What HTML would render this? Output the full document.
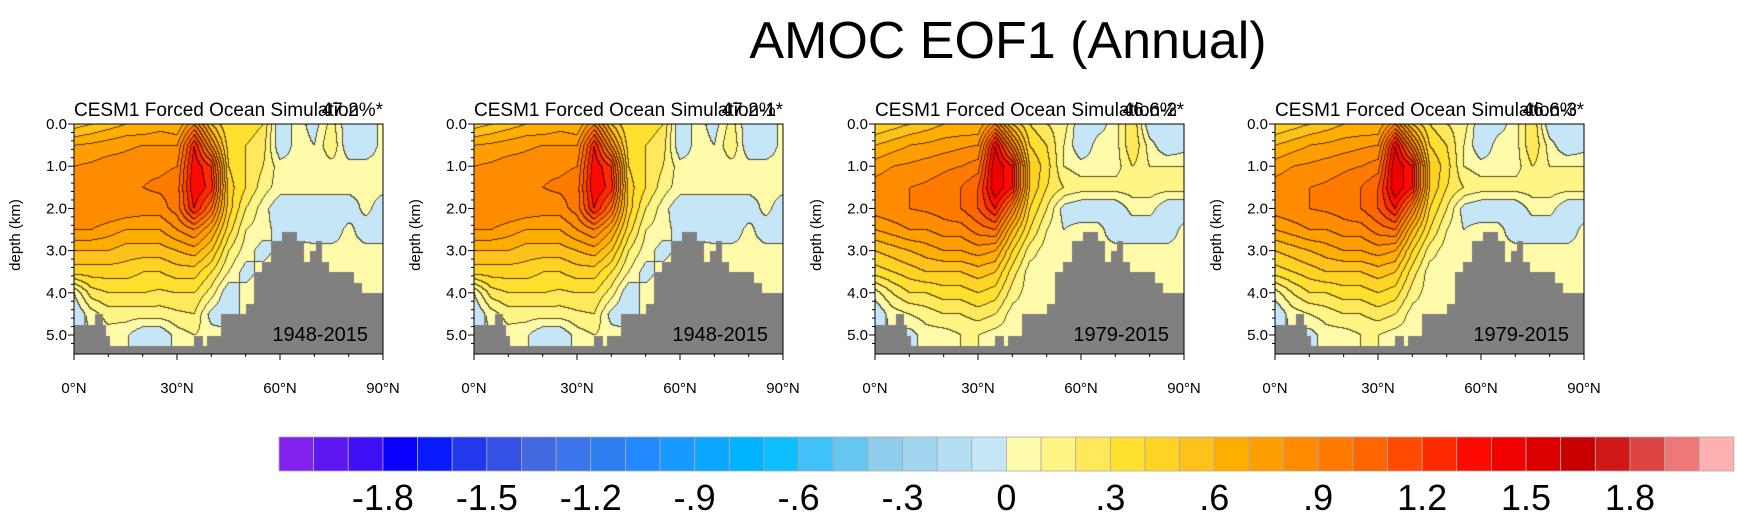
<!DOCTYPE html>
<html><head><meta charset="utf-8"><style>
body{margin:0;background:#fff;width:1737px;height:516px;overflow:hidden;position:relative;font-family:"Liberation Sans",sans-serif}
canvas{position:absolute}
svg{position:absolute;left:0;top:0}
</style></head><body>
<script>
const lats=[0,5,10,15,20,25,30,35,40,45,50,55,60,65,70,75,80,85,90];
const depths=[0,0.5,1,1.5,2,2.5,3,3.5,4,4.5,5,5.5];
const fieldA=[
[.45,.5,.55,.6,.6,.65,.6,.9,.5,.3,.35,.3,-.1,.05,-.05,.15,-.1,-.1,.05],
[.7,.72,.75,.78,.8,.8,.8,1.3,.8,.35,.3,.25,-.1,.05,.0,.2,-.1,-.1,.05],
[.8,.82,.85,.85,.88,.88,.9,1.38,1.2,.4,.3,.2,.05,.05,.05,.05,.05,.05,.05],
[.85,.88,.9,.9,.9,.92,.95,1.4,1.25,.45,.3,.15,.05,.05,.05,.05,.05,.05,.05],
[.9,.9,.9,.88,.85,.85,.95,1.3,1.0,.45,.2,.05,-.1,-.1,-.1,-.1,-.1,.05,-.1],
[.8,.8,.75,.7,.7,.7,.8,.9,.7,.35,.1,.05,-.05,-.05,-.1,-.1,.05,-.1,-.1],
[.6,.6,.6,.55,.55,.55,.6,.65,.5,.2,.05,-.05,.05,.05,.05,.05,.05,.05,.05],
[.45,.45,.45,.45,.4,.4,.45,.45,.3,.1,-.05,.05,.05,.05,.05,.05,.05,.05,.05],
[0,.25,.3,.3,.3,.28,.3,.3,.15,-.1,.05,.05,.05,.05,.05,.05,.05,.05,.05],
[-.1,.05,.15,.15,.15,.15,.18,.2,-.05,-.1,.05,.05,.05,.05,.05,.05,.05,.05,.05],
[-.1,.0,.05,.02,-.1,-.1,.05,.1,.05,.05,.05,.05,.05,.05,.05,.05,.05,.05,.05],
[-.1,.0,.05,.02,-.1,-.1,.05,.1,.05,.05,.05,.05,.05,.05,.05,.05,.05,.05,.05]];
const fieldB=[
[.4,.45,.5,.55,.6,.6,.6,.9,.5,.3,.2,.15,-.1,-.05,.05,.3,-.1,-.1,-.05],
[.6,.65,.7,.72,.75,.78,.8,1.4,.9,.4,.3,.1,-.1,.05,.05,.3,.05,-.1,-.05],
[.75,.8,.82,.85,.88,.9,.95,1.5,1.3,.5,.35,.1,.05,.05,.05,.2,.1,.1,.1],
[.85,.88,.9,.92,.95,1.0,1.1,1.5,1.3,.5,.3,.2,.15,.15,.15,.15,.15,.15,.15],
[.85,.88,.9,.92,.95,1.0,1.1,1.3,.9,.4,.2,-.05,-.1,-.1,-.1,.05,.05,-.1,-.1],
[.7,.75,.8,.8,.85,.85,.95,1.0,.6,.3,.1,.0,.05,.05,-.1,-.1,-.1,-.1,.05],
[.5,.55,.6,.65,.7,.7,.75,.7,.4,.15,.05,.05,.05,.05,.05,.05,.05,.05,.05],
[.35,.4,.45,.5,.5,.5,.55,.5,.25,.05,.05,.05,.05,.05,.05,.05,.05,.05,.05],
[.05,.2,.3,.3,.35,.35,.4,.35,.15,.05,.05,.05,.05,.05,.05,.05,.05,.05,.05],
[-.1,.05,.1,.15,.2,.2,.25,.2,.05,.05,.05,.05,.05,.05,.05,.05,.05,.05,.05],
[-.1,.02,-.05,.05,.05,.1,.1,.05,.05,.05,.05,.05,.05,.05,.05,.05,.05,.05,.05],
[-.1,.02,-.05,.05,.05,.1,.1,.05,.05,.05,.05,.05,.05,.05,.05,.05,.05,.05,.05]];
const bathyLat=[0,2.9,3.4,6.1,8.2,9.2,10.2,34.8,37.3,38.7,42.6,49.9,52.3,54.7,57.1,60.5,64.9,66.8,68.7,70.2,72.1,74,81.3,83.7];
const bathyDepth=[4.76,4.5,4.76,4.5,4.76,5.0,5.26,5.0,5.26,5.0,4.5,4.26,3.5,3.25,2.77,2.55,2.77,3.25,3.0,2.77,3.25,3.5,3.75,4.0];
const panelTitles=["CESM1 Forced Ocean Simulation","CESM1 Forced Ocean Simulation-1","CESM1 Forced Ocean Simulation-2","CESM1 Forced Ocean Simulation-3"];
const panelPct=["47.2%*","47.2%*","46.6%*","46.6%*"];
const panelYears=["1948-2015","1948-2015","1979-2015","1979-2015"];
const cbColors=["#8322EF","#5E17F0","#3F0FF6","#0A00FF","#0A1AFF","#2337ED","#3550E5","#4269E0","#3A75EC","#2D7FF0","#2288FF","#1899FF","#0BA6FF","#00B4FF","#0DBFFF","#40C2F8","#65C6F0","#8ECDEC","#A2D6F0","#B3DDF2","#C5E6F6",
"#FFFBAA","#FFF585","#FFE95A","#FFE02E","#FFD323","#FFC21A","#FFAE00","#FF9E00","#FF8C00","#FF7A00","#FF6600","#FF4A00","#FF2A00","#FF0A00","#F00000","#DC0000","#C80000","#D01818","#DD4444","#EE7777","#FFB0B0"];
const cbLabels=["-1.8","-1.5","-1.2","-.9","-.6","-.3","0",".3",".6",".9","1.2","1.5","1.8"];
const cbLabelVals=[-1.8,-1.5,-1.2,-0.9,-0.6,-0.3,0,0.3,0.6,0.9,1.2,1.5,1.8];
const xTickVals=[0,30,60,90];
const xTickLabels=["0°N","30°N","60°N","90°N"];
const yTickVals=[0,1,2,3,4,5];
const yTickLabels=["0.0","1.0","2.0","3.0","4.0","5.0"];
</script>
<svg id="ov" width="1737" height="516"></svg>
<script>
const NS="http://www.w3.org/2000/svg";
const ov=document.getElementById('ov');
const PW=309,PH=230,PT=124,DMAX=5.45;
const lefts=[74,474,875,1275];
function xS(l,left){return left+l/90*PW;}
function yS(d){return PT+d/DMAX*PH;}
function hex(c){return [parseInt(c.substr(1,2),16),parseInt(c.substr(3,2),16),parseInt(c.substr(5,2),16)];}
const rgb=cbColors.map(hex);
function bin(v){let i=Math.floor((v+2)/0.1+1e-9)+1;return Math.max(0,Math.min(41,i));}
function sample(f,l,d){
  let fi=l/5,fj=d/0.5;let i=Math.min(17,Math.floor(fi)),j=Math.min(10,Math.floor(fj));
  let a=fi-i,b=fj-j;
  return f[j][i]*(1-a)*(1-b)+f[j][i+1]*a*(1-b)+f[j+1][i]*(1-a)*b+f[j+1][i+1]*a*b;}
function bathy(l){let d=bathyDepth[0];for(let k=0;k<bathyLat.length;k++)if(l>=bathyLat[k])d=bathyDepth[k];return d;}
function mk(tag,attrs,parent,text){const e=document.createElementNS(NS,tag);for(const k in attrs)e.setAttribute(k,attrs[k]);if(text!==undefined)e.textContent=text;(parent||ov).appendChild(e);return e;}
const title=mk('text',{x:1008,y:58,'font-size':52,'text-anchor':'middle'},ov,"AMOC EOF1 (Annual)");


for(let p=0;p<4;p++){
  const left=lefts[p];const f=p<2?fieldA:fieldB;
  const cv=document.createElement('canvas');cv.width=PW;cv.height=PH;cv.style.left=left+'px';cv.style.top=PT+'px';
  
  
  document.body.insertBefore(cv,ov);
  const ctx=cv.getContext('2d');const img=ctx.createImageData(PW,PH);
  const bins=new Int16Array(PW*PH);
  for(let y=0;y<PH;y++)for(let x=0;x<PW;x++){
    const l=x/PW*90,d=y/PH*DMAX;
    bins[y*PW+x]=d>=bathy(l)?-1:bin(sample(f,l,d));}
  for(let y=0;y<PH;y++)for(let x=0;x<PW;x++){
    const k=y*PW+x,b=bins[k];let c;
    if(b<0)c=[128,128,128];else{
      c=rgb[b].slice();
      const r=x<PW-1?bins[k+1]:b,dn=y<PH-1?bins[k+PW]:b;
      if((r>=0&&r!==b)||(dn>=0&&dn!==b)){c=[c[0]*0.35,c[1]*0.3,c[2]*0.2];}
    }
    img.data[k*4]=c[0];img.data[k*4+1]=c[1];img.data[k*4+2]=c[2];img.data[k*4+3]=255;}
  ctx.putImageData(img,0,0);
  const g=mk('g',{});
  
  
  mk('rect',{x:left,y:PT,width:PW,height:PH,fill:'none',stroke:'#000','stroke-width':1},g);
  for(let d=0;d<=5.4;d+=0.2){const big=Math.abs(d-Math.round(d))<1e-6;
    mk('line',{x1:left,x2:left-(big?6:3),y1:yS(d),y2:yS(d),stroke:'#000','stroke-width':1},g);}
  yTickVals.forEach((v,i)=>{const t=mk('text',{x:left-7,y:yS(v)+5,'font-size':15,'text-anchor':'end'},g,yTickLabels[i]);
    
    });
  for(let l=0;l<=90;l+=10){const big=l%30===0;
    mk('line',{x1:xS(l,left),x2:xS(l,left),y1:PT+PH,y2:PT+PH+(big?6:3),stroke:'#000','stroke-width':1},g);}
  xTickVals.forEach((v,i)=>{const t=mk('text',{x:xS(v,left),y:393,'font-size':15,'text-anchor':'middle'},g,xTickLabels[i]);
    
    });
  const yt=mk('text',{x:0,y:0,'font-size':15,'text-anchor':'middle',transform:`translate(${left-54},235) rotate(-90)`},g,"depth (km)");
  
  
  const st=mk('text',{x:left,y:116,'font-size':19},g,panelTitles[p]);
  
  
  const pc=mk('text',{x:left+PW,y:116,'font-size':19,'text-anchor':'end'},g,panelPct[p]);
  
  
  const yr=mk('text',{x:left+PW-15,y:341,'font-size':20,'text-anchor':'end'},g,panelYears[p]);
  
  
}
const CB0=279,CBW=34.64,CBY=437,CBH=34;
const cb=mk('g',{});


cbColors.forEach((c,i)=>{const r=mk('rect',{x:CB0+i*CBW,y:CBY,width:CBW,height:CBH,fill:c,stroke:'#aaa','stroke-width':0.8},cb);
  
  });
cbLabelVals.forEach((v,i)=>{const x=CB0+((v+2)/0.1+1)*CBW;
  const t=mk('text',{x:x,y:510,'font-size':36,'text-anchor':'middle'},cb,cbLabels[i]);
  
  });
</script>
</body></html>
